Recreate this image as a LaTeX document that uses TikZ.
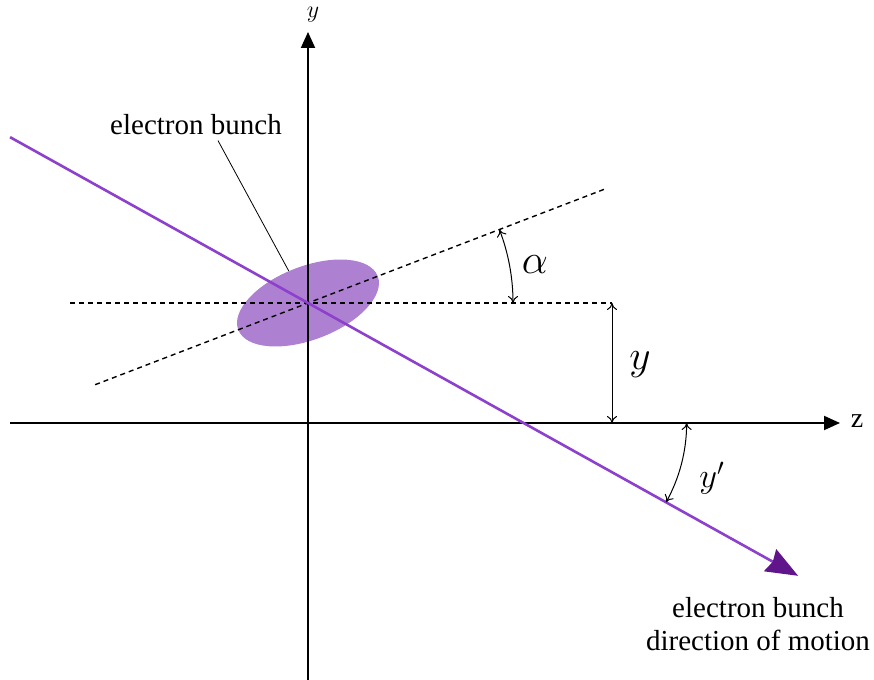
\documentclass[tikz,border=0pt]{standalone}
\usepackage{fontspec}
\setmainfont{Liberation Serif}
\usetikzlibrary{arrows.meta,positioning,shapes.geometric,calc}
\definecolor{beam}{RGB}{141,64,204}
\definecolor{beamdark}{RGB}{96,22,138}
\definecolor{bunchfill}{RGB}{174,128,210}

\begin{document}
\begin{tikzpicture}[
    x=0.5pt, y=0.5pt,
    axis/.style={line width=1pt, -{Triangle[length=8pt, width=7pt]}},
    guide/.style={line width=0.7pt, dash pattern=on 2.5pt off 2pt},
    dim/.style={line width=0.5pt, {To[length=3.5pt, width=5pt]}-{To[length=3.5pt, width=5pt]}},
    beamline/.style={line width=1.3pt, beam, -{Stealth[length=16pt, width=12.5pt, inset=1.5pt, color=beamdark]}},
    lbl/.style={font=\fontsize{14.5}{16.5}\selectfont, align=center, inner sep=0pt},
    sym/.style={inner sep=0pt}
  ]
    \useasboundingbox (0,0) rectangle (874,680);

    % reference points
    \coordinate (B) at (308,377);
    \coordinate (zl) at (10,257);
    \coordinate (zr) at (840,257);
    \coordinate (yb) at (308,0);
    \coordinate (yt) at (308,648);
    \coordinate (hstart) at (70,377);
    \coordinate (hend) at (612,377);
    \coordinate (tstart) at ($(B)+(201:228)$);
    \coordinate (tend) at ($(B)+(21:318)$);
    \coordinate (beamstart) at ($(B)+(150.9:341)$);
    \coordinate (beamend) at ($(B)+(-29.1:561)$);
    \coordinate (C) at (intersection of B--beamend and zl--zr);

    % bunch and guide lines
    \node[ellipse, fill=bunchfill, minimum width=74.7pt, minimum height=36.7pt, inner sep=0pt, rotate=21] (bunch) at (B) {};
    \draw[guide] (hstart) -- (hend);
    \draw[guide] (tstart) -- (tend);

    % axes
    \draw[axis] (yb) -- (yt);
    \draw[axis] (zl) -- (zr);
    \node[sym, font=\fontsize{13}{13}\selectfont] (ylab) at (313,665) {$y$};
    \node[sym, font=\fontsize{14}{14}\selectfont] (zlab) at (857,259) {z};

    % beam
    \draw[beamline] (beamstart) -- (beamend);

    % angles and offset
    \draw[dim] ($(B)+(21:205)$) arc[start angle=21, end angle=0, radius=205];
    \node[sym, font=\fontsize{20}{20}\selectfont] (alpha) at (535,415) {$\alpha$};
    \draw[dim] (hend) -- (hend |- zl);
    \node[sym, font=\fontsize{19.5}{19.5}\selectfont] (yoff) at (640,315) {$y$};
    \draw[dim] ($(C)+(0:163)$) arc[start angle=0, end angle=-29.1, radius=163];
    \node[sym, font=\fontsize{17.5}{17.5}\selectfont] (yprime) at (712,202) {$y'$};

    % labels
    \node[lbl] (eb) at (196,555) {electron bunch};
    \draw[line width=0.4pt] ([xshift=11pt, yshift=-2.5pt]eb.south) -- (bunch.100);
    \node[lbl] (motion) at (758,56) {electron bunch\\direction of motion};
  \end{tikzpicture}
\end{document}
